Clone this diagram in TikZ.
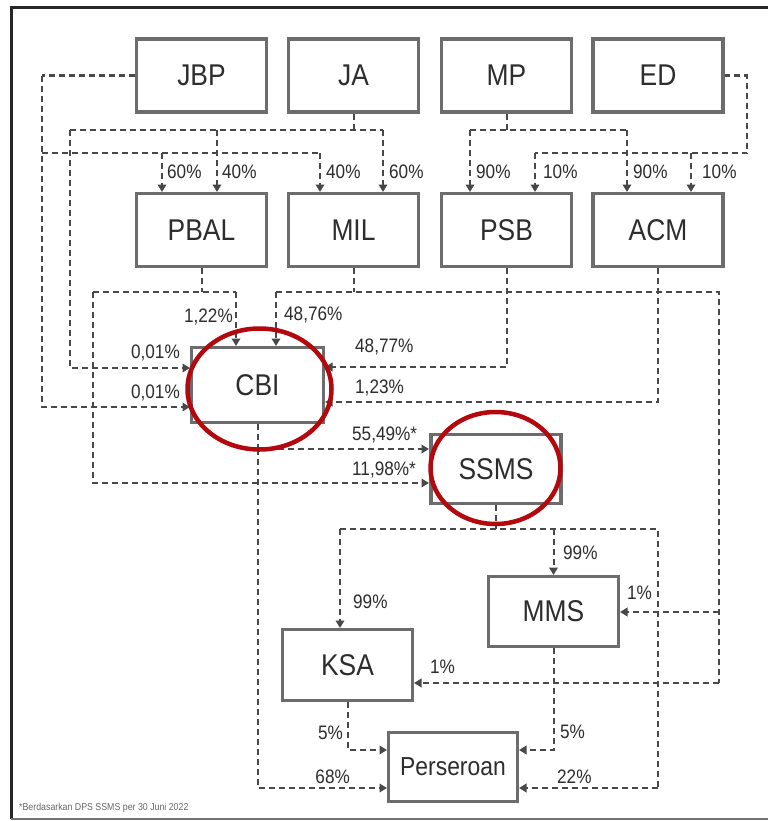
\documentclass[tikz,border=0pt]{standalone}
\usepackage{fontspec}
\setmainfont{Liberation Sans}
\newfontfamily\boxfont[FakeStretch=0.88]{Liberation Sans}
\usetikzlibrary{arrows.meta}
\definecolor{lc}{RGB}{72,72,72}
\definecolor{bc}{RGB}{108,108,108}
\definecolor{tc}{RGB}{45,45,45}
\definecolor{rc}{RGB}{178,8,14}
\begin{document}
\begin{tikzpicture}[x=1bp,y=-1bp,
  ent/.style={draw=bc, line width=3.2bp, fill=white, rectangle, inner sep=0pt,
    minimum width=130bp, minimum height=73bp, text=tc,
    font=\boxfont\fontsize{30bp}{31bp}\selectfont},
  conn/.style={draw=lc, line width=2bp, dash pattern=on 6bp off 4bp},
  arr/.style={conn, -{Triangle[length=7.5bp,width=8.5bp]}},
  pct/.style={anchor=west, inner sep=0pt, text=tc,
    font=\boxfont\fontsize{19.5bp}{20bp}\selectfont},
  pctl/.style={pct, anchor=east},
  ring/.style={draw=rc, line width=4.5bp}]
\useasboundingbox (0,0) rectangle (768,821);
\fill[white] (0,0) rectangle (768,821);
% frame
\draw[line width=3bp, black!85] (768,8) -- (11,8) -- (11,819);
\draw[line width=1.2bp, black!55] (11,819) -- (768,819);

% connectors (drawn first, boxes on top)
% JBP
\draw[arr] (42,75.5) -- (42,407) -- (42,407 -| 190,0);
\draw[conn] (135,75.5) -- (42,75.5);
\draw[conn] (42,153) -- (320,153);
\draw[arr] (162,153) -- (162,192);
\draw[arr] (320,153) -- (320,192);
% JA
\draw[conn] (353.5,114) -- (353.5,130);
\draw[conn] (70,130) -- (383,130);
\draw[arr] (383,130) -- (383,192);
\draw[arr] (217,130) -- (217,192);
\draw[arr] (70,130) -- (70,368) -- (190,368);
% MP
\draw[conn] (506.5,114) -- (506.5,130);
\draw[conn] (470,130) -- (627,130);
\draw[arr] (470,130) -- (470,192);
\draw[arr] (627,130) -- (627,192);
% ED
\draw[conn] (724,75.5) -- (747,75.5) -- (747,153) -- (535,153);
\draw[arr] (535,153) -- (535,192);
\draw[arr] (691,153) -- (691,192);
% PBAL
\draw[conn] (201.5,268) -- (201.5,292);
\draw[conn] (93,292) -- (236,292);
\draw[arr] (236,292) -- (236,346);
\draw[arr] (93,292) -- (93,483) -- (429,483);
% MIL
\draw[conn] (353.5,268) -- (353.5,292);
\draw[conn] (276,292) -- (719,292) -- (719,683);
\draw[arr] (276,292) -- (276,346);
\draw[arr] (719,612) -- (620,612);
\draw[arr] (719,683) -- (414,683);
% PSB, ACM
\draw[arr] (506.5,268) -- (506.5,367) -- (325,367);
\draw[arr] (658,268) -- (658,402) -- (325,402);
% CBI
\draw[conn] (257.5,424) -- (257.5,449);
\draw[arr] (257.5,449) -- (429,449);
\draw[arr] (257.5,449) -- (257.5,788) -- (387,788);
% SSMS
\draw[conn] (496,505) -- (496,529);
\draw[conn] (340,529) -- (658,529) -- (658,788);
\draw[arr] (340,529) -- (340,628);
\draw[arr] (553.5,529) -- (553.5,575);
\draw[arr] (658,788) -- (519,788);
% MMS, KSA
\draw[arr] (553.5,648) -- (553.5,750) -- (519,750);
\draw[arr] (347.5,702) -- (347.5,750) -- (387,750);

% entities
\node[ent] (JBP) at (201.5,75.5) {JBP};
\node[ent] (JA) at (353.5,75.5) {JA};
\node[ent] (MP) at (506.5,75.5) {MP};
\node[ent] (ED) at (658,75.5) {ED};
\node[ent] (PBAL) at (201.5,230) {PBAL};
\node[ent] (MIL) at (353.5,230) {MIL};
\node[ent] (PSB) at (506.5,230) {PSB};
\node[ent] (ACM) at (658,230) {ACM};
\node[ent, minimum width=132bp, minimum height=75bp] (CBI) at (257.5,385) {CBI};
\node[ent, minimum height=69bp] (SSMS) at (496,469) {SSMS};
\node[ent, minimum height=70bp] (MMS) at (553.5,611.5) {MMS};
\node[ent, minimum height=71bp] (KSA) at (347.5,665) {KSA};
\node[ent, minimum width=129bp, minimum height=69bp,
  font=\boxfont\fontsize{26bp}{27bp}\selectfont] (Pers) at (453,767) {Perseroan};

% percentages
\node[pct] at (167,172) {60\%};
\node[pct] at (222,172) {40\%};
\node[pct] at (326,172) {40\%};
\node[pct] at (389,172) {60\%};
\node[pct] at (476,172) {90\%};
\node[pct] at (543,172) {10\%};
\node[pct] at (633,172) {90\%};
\node[pct] at (702,172) {10\%};
\node[pctl] at (233,317) {1,22\%};
\node[pct] at (284,315) {48,76\%};
\node[pctl] at (180,353) {0,01\%};
\node[pctl] at (180,393) {0,01\%};
\node[pct] at (355,347) {48,77\%};
\node[pct] at (355,388) {1,23\%};
\node[pct] at (352,435) {55,49\%*};
\node[pct] at (352,470) {11,98\%*};
\node[pct] at (353,602) {99\%};
\node[pct] at (563,553) {99\%};
\node[pct] at (627,593) {1\%};
\node[pct] at (430,667) {1\%};
\node[pctl] at (343,733) {5\%};
\node[pctl] at (350,777) {68\%};
\node[pct] at (560,732) {5\%};
\node[pct] at (557,777) {22\%};

% highlight rings
\draw[ring] (259.5,389) ellipse [x radius=72bp, y radius=60.5bp];
\draw[ring] (495.5,468) ellipse [x radius=65bp, y radius=56bp];

% footnote
\node[anchor=west, inner sep=0pt, text=black!60,
  font=\boxfont\fontsize{10bp}{11bp}\selectfont] (fn) at (19,808)
  {*Berdasarkan DPS SSMS per 30 Juni 2022};
\end{tikzpicture}
\end{document}
